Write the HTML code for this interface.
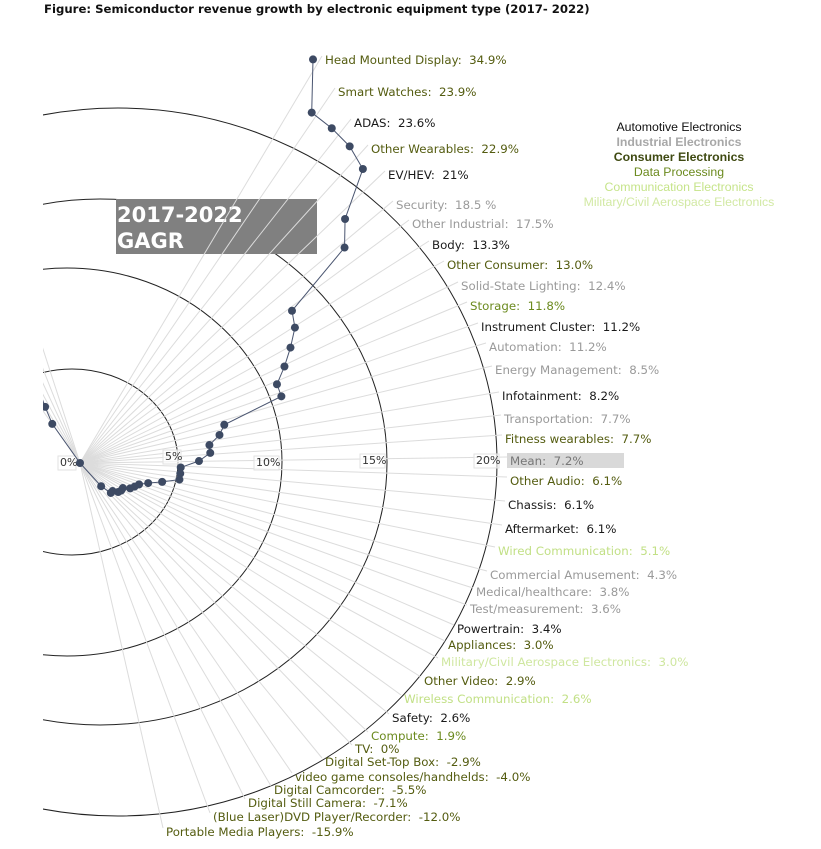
<!DOCTYPE html>
<html><head><meta charset="utf-8"><style>
html,body{margin:0;padding:0;background:#fff;}
#wrap{position:relative;width:821px;height:849px;overflow:hidden;}
.lbl{font-family:"DejaVu Sans","Liberation Sans",sans-serif;}
.leg{font-family:"Liberation Sans",sans-serif;font-size:12.3px;}
</style></head><body>
<div id="wrap">
<svg id="chart" width="821" height="849" viewBox="0 0 821 849">
<text class="lbl" x="44" y="13" font-size="11.7" font-weight="bold" fill="#111">Figure: Semiconductor revenue growth by electronic equipment type (2017- 2022)</text>
<defs><clipPath id="clip"><rect x="43" y="20" width="778" height="829"/></clipPath></defs>
<g clip-path="url(#clip)">
<g id="rings">
<ellipse cx="72" cy="462" rx="106" ry="93" fill="none" stroke="#222"/>
<ellipse cx="67" cy="462" rx="215" ry="194" fill="none" stroke="#222"/>
<ellipse cx="100" cy="462" rx="287" ry="263" fill="none" stroke="#222"/>
<ellipse cx="118" cy="462" rx="379" ry="354" fill="none" stroke="#222"/>
</g>
<g>
<rect x="116" y="199" width="201" height="55" fill="#808080"/>
<text class="lbl" x="117" y="222" font-size="21" font-weight="bold" fill="#fff">2017-2022</text>
<text class="lbl" x="117" y="248" font-size="21" font-weight="bold" fill="#fff">GAGR</text>
</g>
<g id="spokes"></g>
<g id="ticks"></g>
<g id="series"></g>
</g>
<g id="labels"></g>
<g>
<text class="leg" x="679" y="131" text-anchor="middle" fill="#111">Automotive Electronics</text>
<text class="leg" x="679" y="146" text-anchor="middle" fill="#a8a8a8" font-weight="bold">Industrial Electronics</text>
<text class="leg" x="679" y="161" text-anchor="middle" fill="#3f4a12" font-weight="bold">Consumer Electronics</text>
<text class="leg" x="679" y="176" text-anchor="middle" fill="#6b8a1e">Data Processing</text>
<text class="leg" x="679" y="191" text-anchor="middle" fill="#c6e48a">Communication Electronics</text>
<text class="leg" x="679" y="206" text-anchor="middle" fill="#d2e9a4">Military/Civil Aerospace Electronics</text>
</g>
</svg>
</div>
<script>
const categories = ["Head Mounted Display","Smart Watches","ADAS","Other Wearables","EV/HEV","Security","Other Industrial","Body","Other Consumer","Solid-State Lighting","Storage","Instrument Cluster","Automation","Energy Management","Infotainment","Transportation","Fitness wearables","Mean","Other Audio","Chassis","Aftermarket","Wired Communication","Commercial Amusement","Medical/healthcare","Test/measurement","Powertrain","Appliances","Military/Civil Aerospace Electronics","Other Video","Wireless Communication","Safety","Compute","TV","Digital Set-Top Box","video game consoles/handhelds","Digital Camcorder","Digital Still Camera","(Blue Laser)DVD Player/Recorder","Portable Media Players"];
const values = [34.9,23.9,23.6,22.9,21,18.5,17.5,13.3,13.0,12.4,11.8,11.2,11.2,8.5,8.2,7.7,7.7,7.2,6.1,6.1,6.1,5.1,4.3,3.8,3.6,3.4,3.0,3.0,2.9,2.6,2.6,1.9,0,-2.9,-4.0,-5.5,-7.1,-12.0,-15.9];
const valueText = ["34.9%","23.9%","23.6%","22.9%","21%","18.5 %","17.5%","13.3%","13.0%","12.4%","11.8%","11.2%","11.2%","8.5%","8.2%","7.7%","7.7%","7.2%","6.1%","6.1%","6.1%","5.1%","4.3%","3.8%","3.6%","3.4%","3.0%","3.0%","2.9%","2.6%","2.6%","1.9%","0%","-2.9%","-4.0%","-5.5%","-7.1%","-12.0%","-15.9%"];
const groups = ["con","con","auto","con","auto","ind","ind","auto","con","ind","data","auto","ind","ind","auto","ind","con","mean","con","auto","auto","comm","ind","ind","ind","auto","con","mil","con","comm","auto","data","con","con","con","con","con","con","con"];
const tickValues = [0,5,10,15,20];
const tickLabels = ["0%","5%","10%","15%","20%"];

// layout (not data)
const labelPos = [[325,60],[338,92],[354,123],[371,149],[388,175],[396,205],[412,224],[432,245],[447,265],[461,286],[470,306],[481,327],[489,347],[495,370],[502,396],[504,419],[505,439],[510,461],[510,481],[508,505],[505,529],[498,551],[490,575],[476,592],[470,609],[457,629],[448,645],[441,662],[424,681],[404,699],[392,718],[371,736],[355,749],[325,762],[295,777],[274,790],[248,803],[213,817],[166,832]];
const groupColor = {auto:"#1a1a1a",ind:"#9a9a9a",con:"#545c10",data:"#6b8a1e",comm:"#c2e086",mil:"#cfe7a0",mean:"#777"};
const tickPix = [[60,466],[165,460],[256,466],[362,464],[476,464]];
const OX=80, OY=463;
const NS="http://www.w3.org/2000/svg";
function rScale(v){
  const d=[0,7.2,13.3,21,34.9], r=[0,119,261,408,466];
  const a=Math.abs(v); let out=r[4];
  for(let i=0;i<4;i++){ if(a<=d[i+1]){ out=r[i]+(a-d[i])/(d[i+1]-d[i])*(r[i+1]-r[i]); break; } }
  return v<0?-out:out;
}
function angle(i){ return (60 - i*(132/(categories.length-1)))*Math.PI/180; }
function mk(tag,attrs,parent){ const e=document.createElementNS(NS,tag); for(const k in attrs) e.setAttribute(k,attrs[k]); parent.appendChild(e); return e; }

const spokes=document.getElementById('spokes');


categories.forEach((c,i)=>{
  const p=labelPos[i];
  const ln=mk('line',{x1:OX,y1:OY,x2:p[0]-3,y2:p[1]-4,stroke:"#dcdcdc","stroke-width":1},spokes);
  
  
  if(values[i]<0){
    const a=angle(i);
    const l2=mk('line',{x1:OX,y1:OY,x2:OX-Math.cos(a)*200,y2:OY+Math.sin(a)*200,stroke:"#dcdcdc","stroke-width":1},spokes);
    
    
  }
});

const ticks=document.getElementById('ticks');
tickValues.forEach((t,i)=>{
  const p=tickPix[i];
  const g=mk('g',{},ticks);
  
  
  const w=tickLabels[i].length*7+4;
  mk('rect',{x:p[0]-2,y:p[1]-10,width:w,height:14,fill:"#fff","fill-opacity":0.6,stroke:"#e2e2e2"},g);
  const tx=mk('text',{x:p[0],y:p[1],"font-size":11,fill:"#333","class":"lbl"},g);
  tx.textContent=tickLabels[i];
});

const series=document.getElementById('series');


const pts=values.map((v,i)=>{ const a=angle(i), r=rScale(v); return [OX+Math.cos(a)*r, OY-Math.sin(a)*r]; });
const path=mk('polyline',{points:pts.map(p=>p.join(',')).join(' '),fill:"none",stroke:"#4a5570","stroke-width":1},series);


pts.forEach((p,i)=>{
  const c=mk('circle',{cx:p[0],cy:p[1],r:4,fill:"#3d4a63"},series);
  
  
});

const labels=document.getElementById('labels');


categories.forEach((c,i)=>{
  const p=labelPos[i];
  if(groups[i]==='mean'){
    const r=mk('rect',{x:p[0]-3,y:p[1]-8,width:117,height:15,fill:"#d9d9d9"},labels);
    
    
  }
  const t=mk('text',{x:p[0],y:p[1]+4,"font-size":11.8,fill:groupColor[groups[i]],"class":"lbl"},labels);
  
  
  t.textContent=c+":\u00a0 "+valueText[i];
});
</script>
</body></html>
